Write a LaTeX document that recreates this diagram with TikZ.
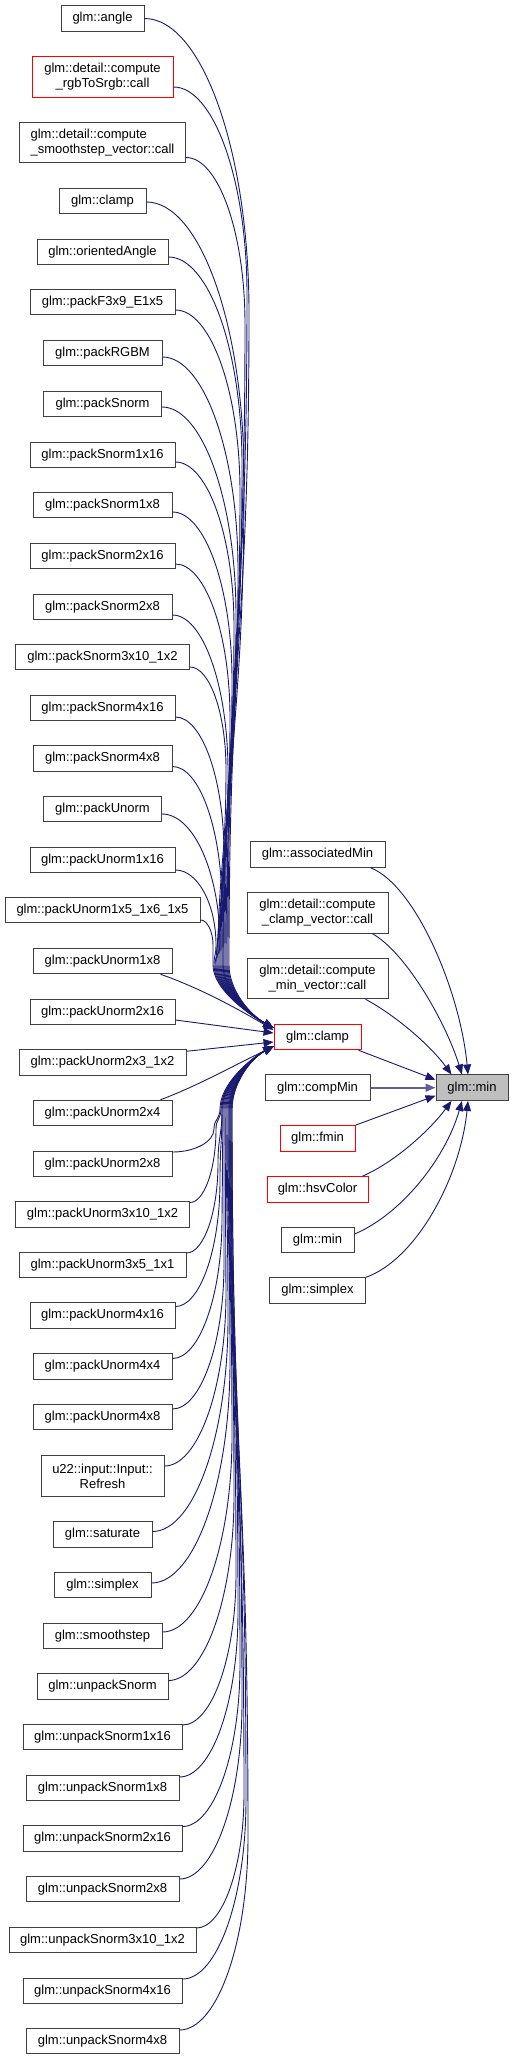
\documentclass[tikz,border=0pt]{standalone}
\usepackage{fontspec}
\setmainfont{Liberation Sans}
\usetikzlibrary{arrows.meta,calc}
\definecolor{edgeblue}{HTML}{191970}
\definecolor{bordergray}{HTML}{404040}
\definecolor{targetgray}{HTML}{BFBFBF}
\begin{document}
\begin{tikzpicture}[x=1pt,y=-1pt,
  nb/.style={draw=bordergray, line width=1pt, fill=white, inner sep=0pt, minimum height=25.5pt, align=center, font=\fontsize{13}{15}\selectfont},
  nred/.style={nb, draw=red},
  nbig/.style={minimum height=40.5pt},
  edge/.style={draw=edgeblue, line width=0.9pt, -{Triangle[length=10pt,width=8pt]}},
  boldedge/.style={edge, line width=1.8pt, draw=edgeblue!70}]
\useasboundingbox (0,0) rectangle (513,2060);

% left column
\node[nb, minimum width=83pt] (angle) at (102.5,18.5) {glm::angle};
\node[nred, nbig, minimum width=141pt] (rgb) at (102.5,77) {glm::detail::compute\\\_rgbToSrgb::call};
\node[nb, nbig, minimum width=166pt, align=left] (smoothv) at (102.5,142.5) {glm::detail::compute\\\_smoothstep\_vector::call};
\node[nb, minimum width=87pt] (clampL) at (102.5,201) {glm::clamp};
\node[nb, minimum width=131pt] (oriented) at (102.5,252) {glm::orientedAngle};
\node[nb, minimum width=145pt] (pF) at (102.5,302) {glm::packF3x9\_E1x5};
\node[nb, minimum width=119pt] (pRGBM) at (102.5,353) {glm::packRGBM};
\node[nb, minimum width=118pt] (pSn) at (102.5,404) {glm::packSnorm};
\node[nb, minimum width=145pt] (pSnA) at (102.5,455) {glm::packSnorm1x16};
\node[nb, minimum width=139pt] (pSnB) at (102.5,505) {glm::packSnorm1x8};
\node[nb, minimum width=145pt] (pSnC) at (102.5,556) {glm::packSnorm2x16};
\node[nb, minimum width=139pt] (pSnD) at (102.5,607) {glm::packSnorm2x8};
\node[nb, minimum width=174pt] (pSnE) at (102.5,657) {glm::packSnorm3x10\_1x2};
\node[nb, minimum width=145pt] (pSnF) at (102.5,708) {glm::packSnorm4x16};
\node[nb, minimum width=139pt] (pSnG) at (102.5,758.5) {glm::packSnorm4x8};
\node[nb, minimum width=118pt] (pUn) at (102.5,809) {glm::packUnorm};
\node[nb, minimum width=145pt] (pUnA) at (102.5,860) {glm::packUnorm1x16};
\node[nb, minimum width=195pt] (pUnB) at (102.5,910) {glm::packUnorm1x5\_1x6\_1x5};
\node[nb, minimum width=139pt] (pUnC) at (102.5,961) {glm::packUnorm1x8};
\node[nb, minimum width=145pt] (pUnD) at (102.5,1012) {glm::packUnorm2x16};
\node[nb, minimum width=167pt] (pUnE) at (102.5,1062.5) {glm::packUnorm2x3\_1x2};
\node[nb, minimum width=139pt] (pUnF) at (102.5,1113) {glm::packUnorm2x4};
\node[nb, minimum width=139pt] (pUnG) at (102.5,1164) {glm::packUnorm2x8};
\node[nb, minimum width=174pt] (pUnH) at (102.5,1214.5) {glm::packUnorm3x10\_1x2};
\node[nb, minimum width=167pt] (pUnI) at (102.5,1265) {glm::packUnorm3x5\_1x1};
\node[nb, minimum width=145pt] (pUnJ) at (102.5,1315.5) {glm::packUnorm4x16};
\node[nb, minimum width=139pt] (pUnK) at (102.5,1366.5) {glm::packUnorm4x4};
\node[nb, minimum width=139pt] (pUnL) at (102.5,1417) {glm::packUnorm4x8};
\node[nb, nbig, minimum width=123pt] (refresh) at (102.5,1476) {u22::input::Input::\\Refresh};
\node[nb, minimum width=99pt] (saturate) at (102.5,1534.5) {glm::saturate};
\node[nb, minimum width=97pt] (simplexL) at (102.5,1585) {glm::simplex};
\node[nb, minimum width=119pt] (smoothstep) at (102.5,1636) {glm::smoothstep};
\node[nb, minimum width=131pt] (uSn) at (102.5,1686.5) {glm::unpackSnorm};
\node[nb, minimum width=159pt] (uSnA) at (102.5,1737) {glm::unpackSnorm1x16};
\node[nb, minimum width=153pt] (uSnB) at (102.5,1788) {glm::unpackSnorm1x8};
\node[nb, minimum width=159pt] (uSnC) at (102.5,1838.5) {glm::unpackSnorm2x16};
\node[nb, minimum width=153pt] (uSnD) at (102.5,1889) {glm::unpackSnorm2x8};
\node[nb, minimum width=187pt] (uSnE) at (102.5,1940) {glm::unpackSnorm3x10\_1x2};
\node[nb, minimum width=159pt] (uSnF) at (102.5,1991) {glm::unpackSnorm4x16};
\node[nb, minimum width=153pt] (uSnG) at (102.5,2041) {glm::unpackSnorm4x8};

% middle column
\node[nb, minimum width=135pt] (assoc) at (317.5,854.5) {glm::associatedMin};
\node[nb, nbig, minimum width=141pt] (ccv) at (317.5,913) {glm::detail::compute\\\_clamp\_vector::call};
\node[nb, nbig, minimum width=141pt] (cmv) at (317.5,978.5) {glm::detail::compute\\\_min\_vector::call};
\node[nred, minimum width=87pt] (clampM) at (317.5,1037) {glm::clamp};
\node[nb, minimum width=105pt] (compMin) at (317.5,1087.7) {glm::compMin};
\node[nred, minimum width=75pt] (fmin) at (317.5,1138.4) {glm::fmin};
\node[nred, minimum width=101pt] (hsv) at (317.5,1189.4) {glm::hsvColor};
\node[nb, minimum width=73pt] (minM) at (317.5,1240) {glm::min};
\node[nb, minimum width=96pt] (simplexM) at (317.5,1290.5) {glm::simplex};

% target
\node[nb, fill=targetgray, minimum width=72pt] (gmin) at (472,1087.7) {glm::min};

% edges from upper left nodes into clamp
\foreach \n/\xr/\yc/\dy/\xb/\xl in {
  angle/144/18.5/0/249/229, rgb/173/77/10/247/228, smoothv/185.5/142.5/15/245/227,
  clampL/146/201/1/244/226, oriented/168/252/5/242/225, pF/175/302/8/240/224,
  pRGBM/162/353/4/238/223, pSn/161.5/404/3/236/223, pSnA/175/455/7/234/222,
  pSnB/172/505/7/232/221, pSnC/175/556/8/230/220, pSnD/172/607/8/228/219,
  pSnE/189.5/657/10/226/218, pSnF/175/708/9/224/217, pSnG/172/758.5/8/222/216,
  pUn/161.5/809/5/220/215, pUnA/175/860/10/216/214, pUnB/200/910/10/213/213}{
  \pgfmathsetmacro\ys{\yc+\dy}
  \pgfmathsetmacro\R{\xb-\xr}
  \pgfmathsetmacro\V{min(2.8*\R,945-\ys)}
  \pgfmathsetmacro\ca{\xr+0.55*\R}
  \pgfmathsetmacro\cb{\ys+0.45*\V}
  \pgfmathsetmacro\cc{\ys+\V}
  \pgfmathsetmacro\cd{\cc+0.5*(965-\cc)}
  \pgfmathsetmacro\ce{965-0.5*(965-\cc)}
  \draw[edge] ($(\n.east)+(0,\dy)$) .. controls (\ca,\ys) and (\xb,\cb) .. (\xb,\cc)
     .. controls (\xb,\cd) and (\xl,\ce) .. (\xl,965)
     .. controls (\xl,990) and (250,1015) .. ($(clampM.west)+(0,-9)$);
}
% edges from lower left nodes into clamp
\foreach \n/\xr/\yc/\dy/\xb/\xl in {
  pUnG/172/1164/-12/214/220, pUnH/189.5/1214.5/-12/216/221, pUnI/186/1265/-12/218/222,
  pUnJ/175/1315.5/-9/220/222, pUnK/172/1366.5/-8/222/223, pUnL/172/1417/-8/224/224,
  refresh/164/1476/-10/226/225, saturate/152/1534.5/-3/228/226, simplexL/151/1585/-2/230/227,
  smoothstep/162/1636/-4/232/228, uSn/168/1686.5/-6/234/229, uSnA/182/1737/-12/236/229,
  uSnB/179/1788/-11/238/230, uSnC/182/1838.5/-12/240/230, uSnD/179/1889/-10/242/231,
  uSnE/196/1940/-12/244/231, uSnF/182/1991/-12/246/232, uSnG/179/2041/-11/248/232}{
  \pgfmathsetmacro\ys{\yc+\dy}
  \pgfmathsetmacro\R{\xb-\xr}
  \pgfmathsetmacro\V{min(2.8*\R,\ys-1129)}
  \pgfmathsetmacro\ca{\xr+0.55*\R}
  \pgfmathsetmacro\cb{\ys-0.45*\V}
  \pgfmathsetmacro\cc{\ys-\V}
  \pgfmathsetmacro\cd{\cc-0.5*(\cc-1109)}
  \pgfmathsetmacro\ce{1109+0.5*(\cc-1109)}
  \draw[edge] ($(\n.east)+(0,\dy)$) .. controls (\ca,\ys) and (\xb,\cb) .. (\xb,\cc)
     .. controls (\xb,\cd) and (\xl,\ce) .. (\xl,1109)
     .. controls (\xl,1084) and (250,1059) .. ($(clampM.west)+(0,9)$);
}
% near edges
\draw[edge] ($(pUnC.south east)+(-12,0)$) .. controls (200,988) and (240,1010) .. ($(clampM.west)+(0,-7)$);
\draw[edge] ($(pUnD.east)+(0,8)$) -- ($(clampM.west)+(0,-4)$);
\draw[edge] ($(pUnE.north east)+(0,2)$) -- ($(clampM.west)+(0,5)$);
\draw[edge] ($(pUnF.north east)+(-12,0)$) .. controls (200,1085) and (240,1062) .. ($(clampM.west)+(0,10)$);

% edges into target
\draw[edge] ($(assoc.south east)+(-15,0)$) .. controls (415,885) and (460,990) .. ($(gmin.north)+(-4,0)$);
\draw[edge] ($(ccv.south east)+(-16,0)$) .. controls (405,952) and (445,1020) .. ($(gmin.north)+(-10,0)$);
\draw[edge] ($(cmv.south east)+(-23,0)$) .. controls (395,1015) and (430,1045) .. ($(gmin.north west)+(16,0)$);
\draw[edge] ($(clampM.south east)+(-3,0)$) -- ($(gmin.west)+(0,-8)$);
\draw[boldedge] (compMin.east) -- (gmin.west);
\draw[edge] (fmin.north east) -- ($(gmin.west)+(0,8)$);
\draw[edge] ($(hsv.north east)+(-6,0)$) .. controls (395,1162) and (430,1130) .. ($(gmin.south west)+(16,0)$);
\draw[edge] ($(minM.east)+(0,-6)$) .. controls (400,1215) and (445,1160) .. ($(gmin.south)+(-10,0)$);
\draw[edge] (simplexM.north east) .. controls (415,1260) and (460,1180) .. ($(gmin.south)+(-4,0)$);
\end{tikzpicture}
\end{document}
